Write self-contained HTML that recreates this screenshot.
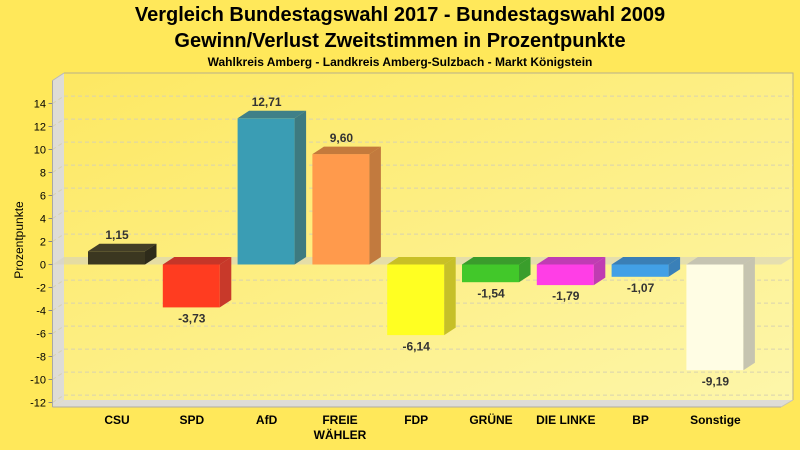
<!DOCTYPE html>
<html><head><meta charset="utf-8"><style>
html,body{margin:0;padding:0;background:#ffe85a;}
svg{display:block;}
text{font-family:"Liberation Sans",Arial,sans-serif;}
</style></head><body>
<svg width="800" height="450" viewBox="0 0 800 450" xmlns="http://www.w3.org/2000/svg">
<defs>
<linearGradient id="wall" x1="0" y1="0" x2="1" y2="1">
<stop offset="0" stop-color="#fde862"/>
<stop offset="1" stop-color="#fdf6aa"/>
</linearGradient>
</defs>
<rect width="800" height="450" fill="#ffe85a"/>
<text x="400" y="21" font-size="20" font-weight="bold" text-anchor="middle" fill="#000">Vergleich Bundestagswahl 2017 - Bundestagswahl 2009</text>
<text x="400" y="47" font-size="20" font-weight="bold" text-anchor="middle" fill="#000">Gewinn/Verlust Zweitstimmen in Prozentpunkte</text>
<text x="400" y="66" font-size="12" font-weight="bold" text-anchor="middle" fill="#000">Wahlkreis Amberg - Landkreis Amberg-Sulzbach - Markt Königstein</text>

<!-- back wall -->
<rect x="64" y="73" width="729" height="327" fill="url(#wall)"/>
<polyline points="64,73 793,73 793,400" fill="none" stroke="#b8b08a" stroke-width="1"/>
<!-- left wall -->
<polygon points="52.5,80.5 64,73 64,400 52.5,407" fill="#dedcd6"/>
<!-- floor -->
<polygon points="52.5,407 64,400 793,400 781,407" fill="#dedcd6"/>
<line x1="52.5" y1="407" x2="781" y2="407" stroke="#b0ada0"/>
<line x1="781" y1="407" x2="793" y2="400" stroke="#c8c4b0"/>
<line x1="52.5" y1="80.5" x2="52.5" y2="407" stroke="#a8a8a8"/>
<line x1="52.5" y1="80.5" x2="64" y2="73" stroke="#b8b8b8"/>

<!-- gridlines -->
<g stroke="#d8d2b0" stroke-width="1" stroke-dasharray="4,3" fill="none">
<path d="M64,96.1H793 M64,119.1H793 M64,142.1H793 M64,165.1H793 M64,188.1H793 M64,211.1H793 M64,234.1H793 M64,280.1H793 M64,303.1H793 M64,326.1H793 M64,349.1H793 M64,372.1H793 M64,395.1H793"/>
<path d="M52.5,103.5L64,96.1 M52.5,126.5L64,119.1 M52.5,149.5L64,142.1 M52.5,172.5L64,165.1 M52.5,195.5L64,188.1 M52.5,218.5L64,211.1 M52.5,241.5L64,234.1 M52.5,287.5L64,280.1 M52.5,310.5L64,303.1 M52.5,333.5L64,326.1 M52.5,356.5L64,349.1 M52.5,379.5L64,372.1 M52.5,402.5L64,395.1"/>
</g>
<!-- ticks -->
<g stroke="#888" stroke-width="1">
<path d="M48.5,103.5H52.5 M48.5,126.5H52.5 M48.5,149.5H52.5 M48.5,172.5H52.5 M48.5,195.5H52.5 M48.5,218.5H52.5 M48.5,241.5H52.5 M48.5,264.5H52.5 M48.5,287.5H52.5 M48.5,310.5H52.5 M48.5,333.5H52.5 M48.5,356.5H52.5 M48.5,379.5H52.5 M48.5,402.5H52.5"/>
</g>
<g font-size="11" text-anchor="end" fill="#000">
<text x="46" y="107.5">14</text>
<text x="46" y="130.5">12</text>
<text x="46" y="153.5">10</text>
<text x="46" y="176.5">8</text>
<text x="46" y="199.5">6</text>
<text x="46" y="222.5">4</text>
<text x="46" y="245.5">2</text>
<text x="46" y="268.5">0</text>
<text x="46" y="291.5">-2</text>
<text x="46" y="314.5">-4</text>
<text x="46" y="337.5">-6</text>
<text x="46" y="360.5">-8</text>
<text x="46" y="383.5">-10</text>
<text x="46" y="406.5">-12</text>
</g>
<text transform="translate(23,240) rotate(-90)" font-size="12" text-anchor="middle" fill="#000">Prozentpunkte</text>

<!-- zero plane -->
<polygon points="52.5,264.5 64,257 793,257 781,264.5" fill="#d6d2c0" fill-opacity="0.6"/>

<!-- bars -->
<!-- CSU 1.15 : x0=88 -->
<rect x="88" y="251.3" width="57" height="13.2" fill="#3b3720"/>
<polygon points="88,251.3 99.5,243.8 156.5,243.8 145,251.3" fill="#433e26"/>
<polygon points="145,251.3 156.5,243.8 156.5,257 145,264.5" fill="#2e2b1a"/>
<!-- SPD -3.73 : x0=162.8 -->
<rect x="162.8" y="264.5" width="57" height="42.9" fill="#ff3c20"/>
<polygon points="162.8,264.5 174.3,257 231.3,257 219.8,264.5" fill="#c63628"/>
<polygon points="219.8,264.5 231.3,257 231.3,299.9 219.8,307.4" fill="#c8392a"/>
<!-- AfD 12.71 : x0=237.6 -->
<rect x="237.6" y="118.3" width="57" height="146.2" fill="#3a9db4"/>
<polygon points="237.6,118.3 249.1,110.8 306.1,110.8 294.6,118.3" fill="#3f8088"/>
<polygon points="294.6,118.3 306.1,110.8 306.1,257 294.6,264.5" fill="#3d7a80"/>
<!-- FREIE WÄHLER 9.60 : x0=312.4 -->
<rect x="312.4" y="154.1" width="57" height="110.4" fill="#ff9a4c"/>
<polygon points="312.4,154.1 323.9,146.6 380.9,146.6 369.4,154.1" fill="#c47a3c"/>
<polygon points="369.4,154.1 380.9,146.6 380.9,257 369.4,264.5" fill="#c27a3e"/>
<!-- FDP -6.14 : x0=387.2 -->
<rect x="387.2" y="264.5" width="57" height="70.6" fill="#ffff22"/>
<polygon points="387.2,264.5 398.7,257 455.7,257 444.2,264.5" fill="#c8c026"/>
<polygon points="444.2,264.5 455.7,257 455.7,327.6 444.2,335.1" fill="#c6c028"/>
<!-- GRÜNE -1.54 : x0=462 -->
<rect x="462" y="264.5" width="57" height="17.7" fill="#42c82a"/>
<polygon points="462,264.5 473.5,257 530.5,257 519,264.5" fill="#3a9c2c"/>
<polygon points="519,264.5 530.5,257 530.5,274.7 519,282.2" fill="#3a9e2c"/>
<!-- DIE LINKE -1.79 : x0=536.8 -->
<rect x="536.8" y="264.5" width="57" height="20.6" fill="#ff3ee6"/>
<polygon points="536.8,264.5 548.3,257 605.3,257 593.8,264.5" fill="#c03cb4"/>
<polygon points="593.8,264.5 605.3,257 605.3,277.6 593.8,285.1" fill="#c03cb2"/>
<!-- BP -1.07 : x0=611.6 -->
<rect x="611.6" y="264.5" width="57" height="12.3" fill="#42a0e6"/>
<polygon points="611.6,264.5 623.1,257 680.1,257 668.6,264.5" fill="#3a7fb6"/>
<polygon points="668.6,264.5 680.1,257 680.1,269.3 668.6,276.8" fill="#3a80b8"/>
<!-- Sonstige -9.19 : x0=686.4 -->
<rect x="686.4" y="264.5" width="57" height="105.7" fill="#fffde4"/>
<polygon points="686.4,264.5 697.9,257 754.9,257 743.4,264.5" fill="#c6c4b2"/>
<polygon points="743.4,264.5 754.9,257 754.9,362.7 743.4,370.2" fill="#c6c4b0"/>

<!-- value labels -->
<g font-size="12" font-weight="bold" text-anchor="middle" fill="#333">
<text x="117" y="239">1,15</text>
<text x="191.8" y="322.5">-3,73</text>
<text x="266.6" y="106">12,71</text>
<text x="341.4" y="142">9,60</text>
<text x="416.2" y="350.5">-6,14</text>
<text x="491" y="297.5">-1,54</text>
<text x="565.8" y="300">-1,79</text>
<text x="640.6" y="292">-1,07</text>
<text x="715.4" y="385.5">-9,19</text>
</g>

<!-- category labels -->
<g font-size="12" font-weight="bold" text-anchor="middle" fill="#000">
<text x="117" y="424">CSU</text>
<text x="191.8" y="424">SPD</text>
<text x="266.6" y="424">AfD</text>
<text x="340" y="424">FREIE</text>
<text x="340" y="439">WÄHLER</text>
<text x="416.2" y="424">FDP</text>
<text x="491" y="424">GRÜNE</text>
<text x="565.8" y="424">DIE LINKE</text>
<text x="640.6" y="424">BP</text>
<text x="715.4" y="424">Sonstige</text>
</g>
</svg>
</body></html>
